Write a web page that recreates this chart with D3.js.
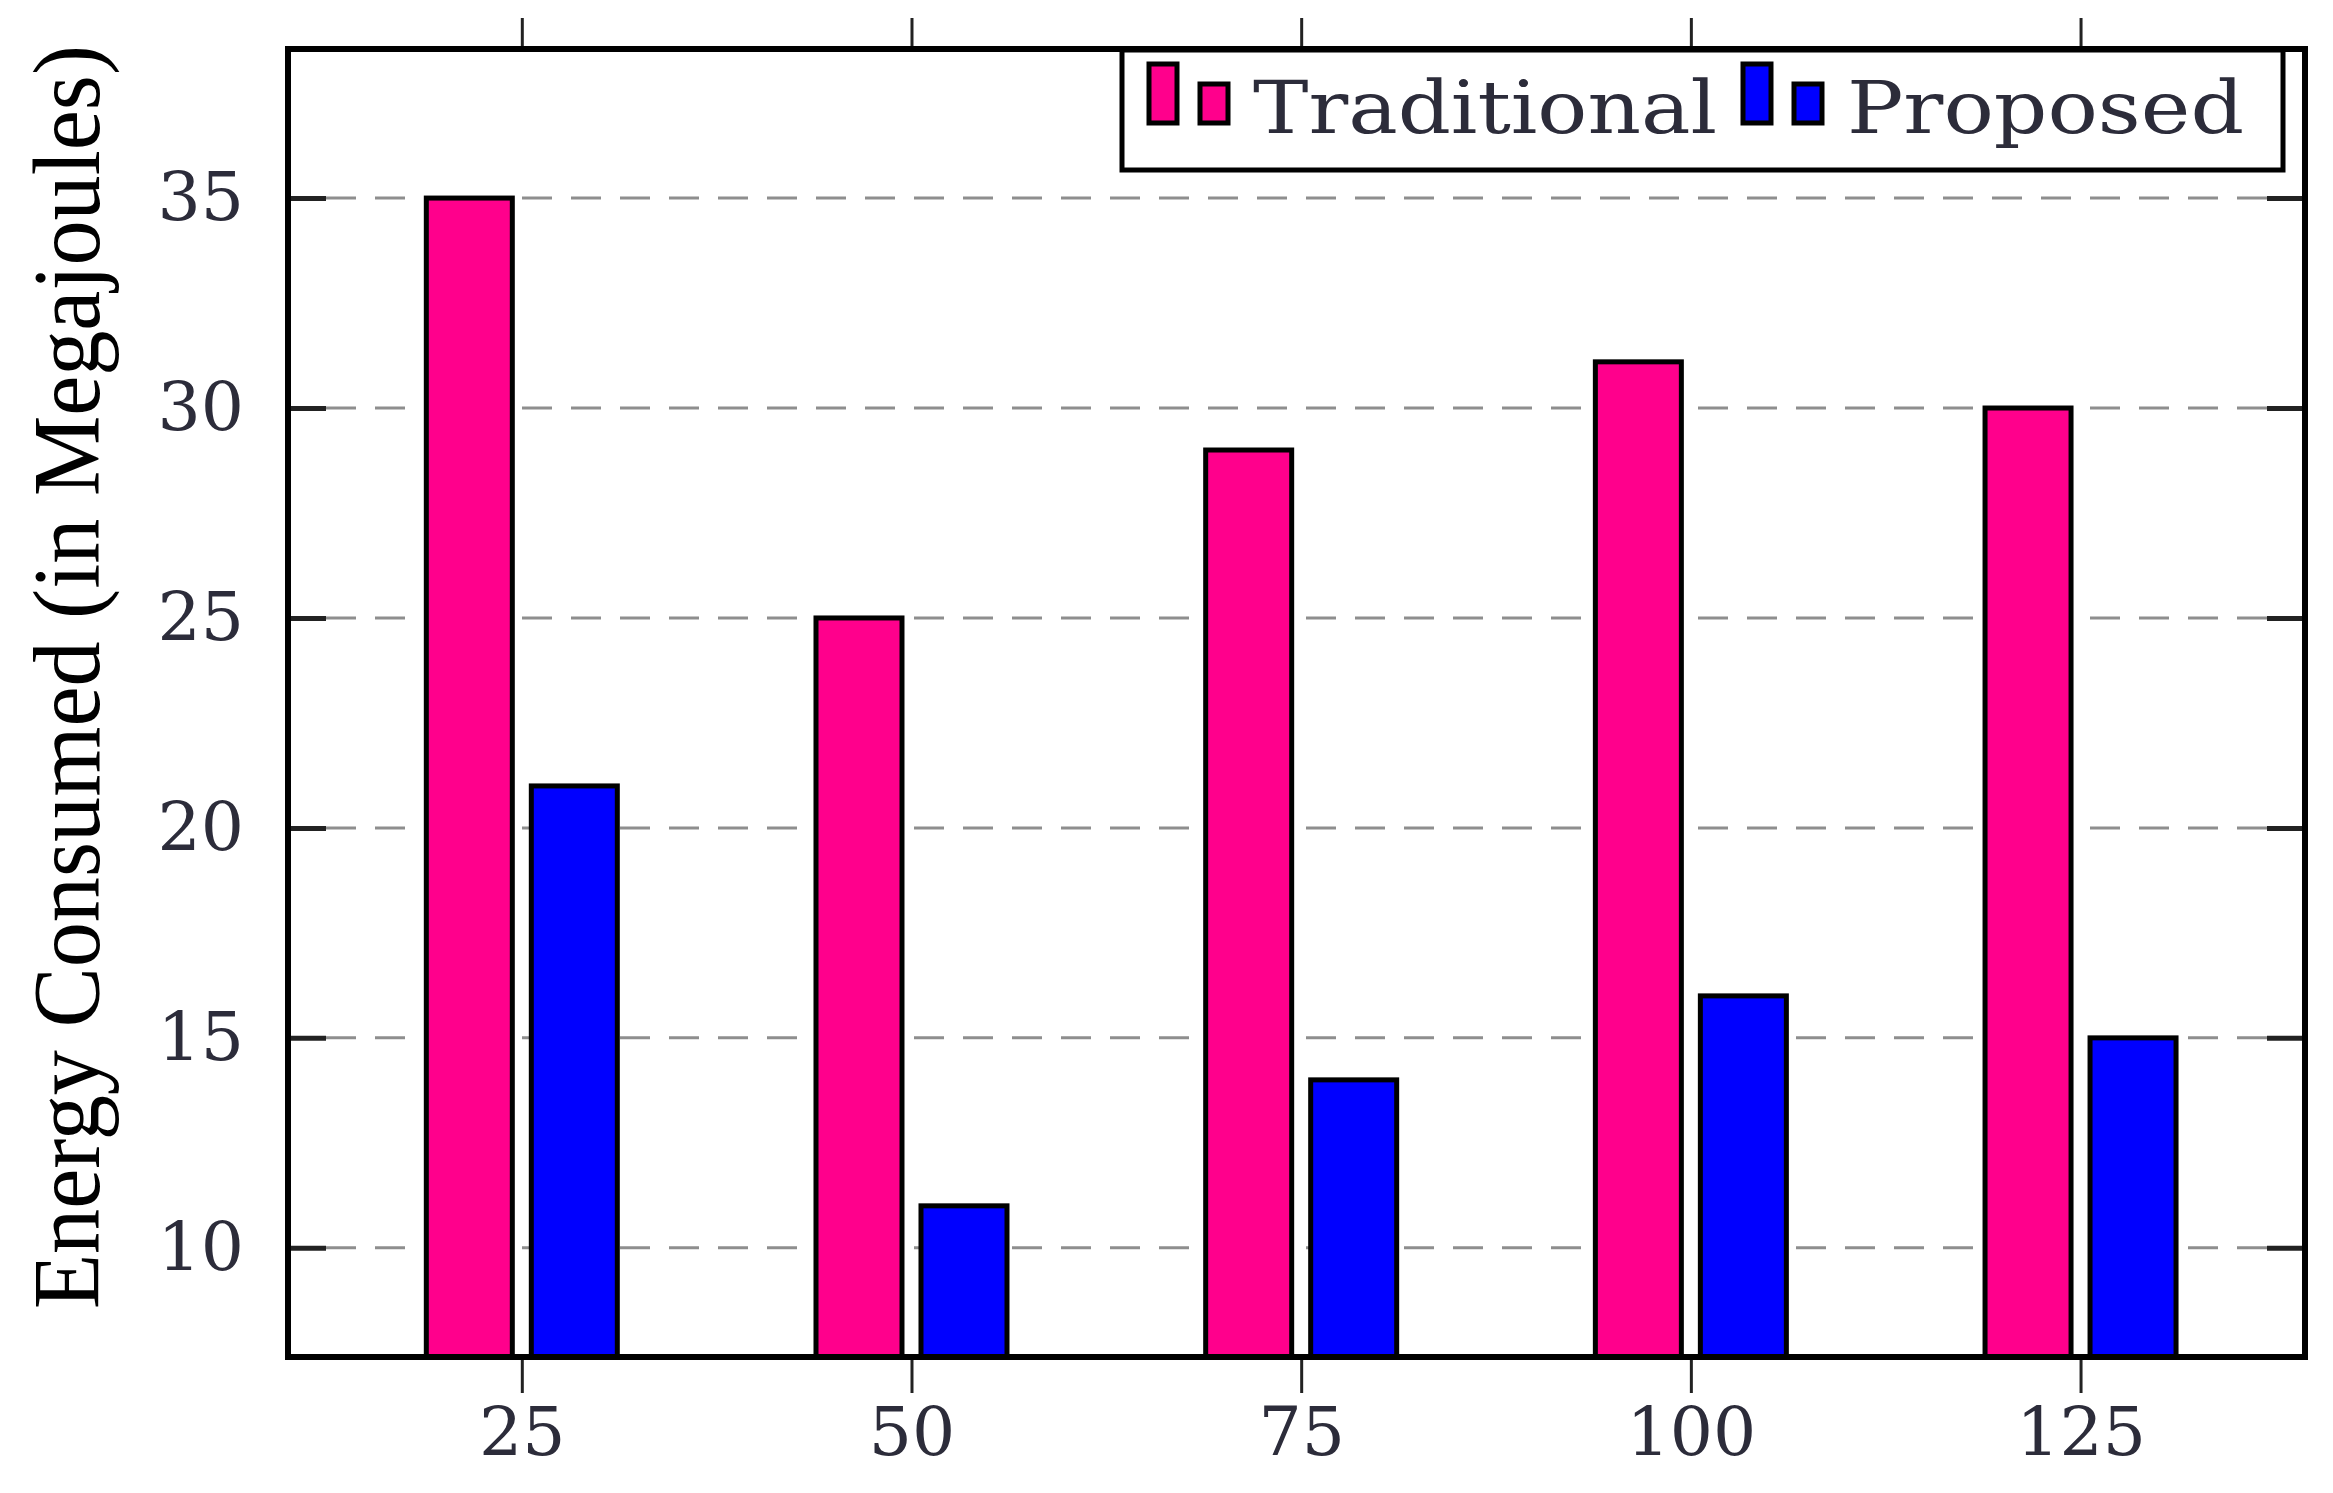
<!DOCTYPE html>
<html>
<head>
<meta charset="utf-8">
<script src="https://cdn.jsdelivr.net/npm/d3@7/dist/d3.min.js"></script>
<style>
  html, body { margin: 0; padding: 0; background: #fff; }
  svg { display: block; }
</style>
</head>
<body>
<script>
'use strict';

// data
const categories = [25, 50, 75, 100, 125];
const traditional = [35, 25, 29, 31.1, 30];
const proposed = [21, 11, 14, 16, 15];
const yTicks = [10, 15, 20, 25, 30, 35];
const seriesNames = ['Traditional', 'Proposed'];
const seriesColors = ['#ff008c', '#0000ff'];
const yLabel = 'Energy Consumed (in Megajoules)';

const width = 2333;
const height = 1493;
const plot = {left: 288, right: 2305, top: 49, bottom: 1357};

const x = d3.scaleLinear().domain([10, 139.4]).range([plot.left, plot.right]);
const y = d3.scaleLinear().domain([7.4, 38.55]).range([plot.bottom, plot.top]);

const barW = 86;
const barGap = 19;
const tickFont = '"DejaVu Serif", serif';
const textColor = '#2c2c3a';

const svg = d3.select('body').append('svg')
  .attr('width', width)
  .attr('height', height)
  .style('background', '#fff');

// dashed grid
svg.append('g')
  .selectAll('line')
  .data(yTicks)
  .enter().append('line')
  .attr('x1', plot.left + 38)
  .attr('x2', plot.right)
  .attr('y1', function(d) { return y(d); })
  .attr('y2', function(d) { return y(d); })
  .attr('stroke', '#8e8e8e')
  .attr('stroke-width', 3)
  .attr('stroke-dasharray', '30,19');

// bars
const series = [traditional, proposed];
series.forEach(function(values, s) {
  svg.append('g')
    .selectAll('rect')
    .data(values)
    .enter().append('rect')
    .attr('x', function(d, i) {
      const c = x(categories[i]);
      return s === 0 ? c - barGap / 2 - barW : c + barGap / 2;
    })
    .attr('y', function(d) { return y(d); })
    .attr('width', barW)
    .attr('height', function(d) { return y.range()[0] - y(d); })
    .attr('fill', seriesColors[s])
    .attr('stroke', '#000')
    .attr('stroke-width', 5);
});

// axes
const axisLeft = svg.append('g')
  .attr('transform', 'translate(' + plot.left + ',0)')
  .call(d3.axisLeft(y).tickValues(yTicks).tickSize(-38).tickPadding(44));

const axisRight = svg.append('g')
  .attr('transform', 'translate(' + plot.right + ',0)')
  .call(d3.axisRight(y).tickValues(yTicks).tickSize(-38).tickFormat(''));

const axisBottom = svg.append('g')
  .attr('transform', 'translate(0,' + plot.bottom + ')')
  .call(d3.axisBottom(x).tickValues(categories).tickSize(36).tickPadding(14));

const axisTop = svg.append('g')
  .attr('transform', 'translate(0,' + plot.top + ')')
  .call(d3.axisTop(x).tickValues(categories).tickSize(31).tickFormat(''));

[axisLeft, axisRight, axisBottom, axisTop].forEach(function(g) {
  g.select('.domain').remove();
  g.selectAll('.tick line').attr('stroke', '#222').attr('stroke-width', 3);
  g.selectAll('.tick text')
    .attr('fill', textColor)
    .style('font-family', tickFont)
    .style('font-size', '68px');
});
axisLeft.selectAll('.tick line').attr('stroke-width', 5);
axisRight.selectAll('.tick line').attr('stroke-width', 5);

// frame
svg.append('rect')
  .attr('x', plot.left)
  .attr('y', plot.top)
  .attr('width', plot.right - plot.left)
  .attr('height', plot.bottom - plot.top)
  .attr('fill', 'none')
  .attr('stroke', '#000')
  .attr('stroke-width', 6);

// legend
const legend = svg.append('g');
legend.append('rect')
  .attr('x', 1122)
  .attr('y', 50)
  .attr('width', 1161)
  .attr('height', 120)
  .attr('fill', '#fff')
  .attr('stroke', '#000')
  .attr('stroke-width', 5);

const legendX = [1149, 1743];
const legendTextLen = [464, 397];
seriesNames.forEach(function(name, s) {
  const g = legend.append('g').attr('transform', 'translate(' + legendX[s] + ',0)');
  g.append('rect')
    .attr('x', 0).attr('y', 64).attr('width', 28).attr('height', 59)
    .attr('fill', seriesColors[s]).attr('stroke', '#000').attr('stroke-width', 5);
  g.append('rect')
    .attr('x', 51).attr('y', 84).attr('width', 28).attr('height', 39)
    .attr('fill', seriesColors[s]).attr('stroke', '#000').attr('stroke-width', 5);
  g.append('text')
    .attr('x', 104)
    .attr('y', 133)
    .attr('textLength', legendTextLen[s])
    .attr('lengthAdjust', 'spacingAndGlyphs')
    .attr('fill', textColor)
    .style('font-family', tickFont)
    .style('font-size', '72px')
    .text(name);
});

// y axis title
svg.append('text')
  .attr('transform', 'translate(99,677) rotate(-90)')
  .attr('text-anchor', 'middle')
  .attr('textLength', 1264)
  .attr('lengthAdjust', 'spacingAndGlyphs')
  .attr('fill', '#000')
  .style('font-family', '"Liberation Serif", "Times New Roman", serif')
  .style('font-size', '96px')
  .text(yLabel);
</script>
</body>
</html>
